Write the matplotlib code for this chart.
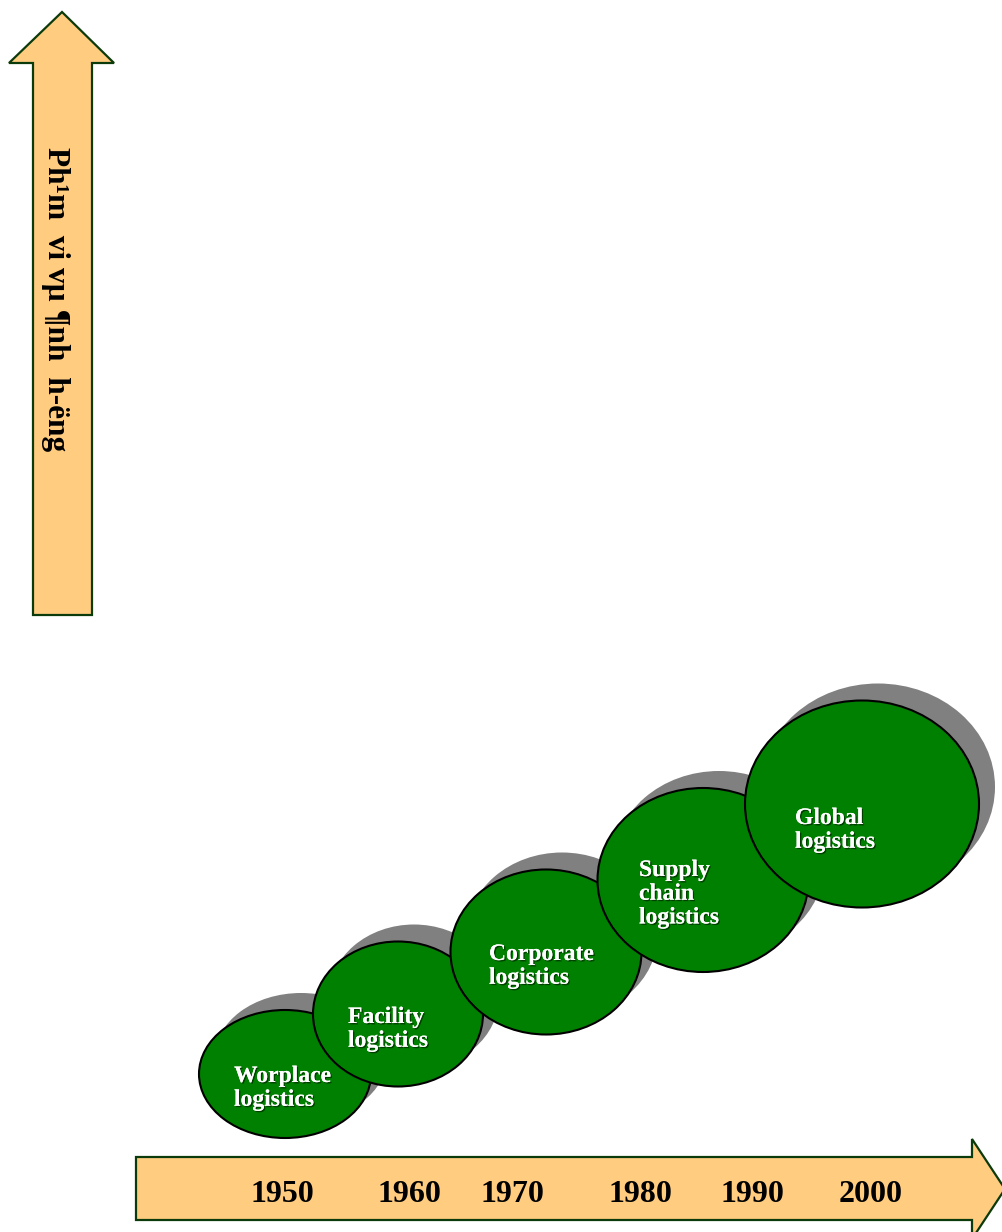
import matplotlib.pyplot as plt
from matplotlib.patches import Polygon, Ellipse
import matplotlib.patheffects as pe

# labels and years
stages = ['Worplace\nlogistics', 'Facility\nlogistics', 'Corporate\nlogistics',
          'Supply\nchain\nlogistics', 'Global\nlogistics']
years = ['1950', '1960', '1970', '1980', '1990', '2000']
axis_title = 'Ph\u00b9m  vi vµ ¶nh  h-ëng'

# layout (pixel coords, y down)
ell_cx = [285, 398, 546, 703, 862]
ell_cy = [1074, 1014, 952, 880, 804]
ell_w = [172, 170, 191, 211, 234]
ell_h = [128, 145, 165, 184, 207]
txt_x = [234, 348, 489, 639, 795]
txt_y = [1076, 1017, 954, 870, 818]
year_x = [282, 409, 512, 640, 752, 871]

W, H = 1003, 1232
fig = plt.figure(figsize=(W / 100, H / 100), dpi=100)
ax = fig.add_axes([0, 0, 1, 1])
ax.set_xlim(0, W)
ax.set_ylim(H, 0)
ax.axis('off')

fill = '#FFCC80'
edge = '#0B3A0B'

# vertical arrow
v_arrow = [(62, 12), (9, 63), (33, 63), (33, 615), (92, 615), (92, 63), (114, 63)]
ax.add_patch(Polygon(v_arrow, closed=True, fc=fill, ec=edge, lw=1.6, zorder=1))
ax.text(55, 299, axis_title, rotation=270, ha='center', va='center',
        fontsize=22.5, fontweight='bold', family='Liberation Serif', zorder=2)

# horizontal arrow
h_arrow = [(136, 1157), (972, 1157), (972, 1139), (1005, 1189), (972, 1239),
           (972, 1220), (136, 1220)]
ax.add_patch(Polygon(h_arrow, closed=True, fc=fill, ec=edge, lw=1.6, zorder=1))
for x, y in zip(year_x, years):
    ax.text(x, 1194, y, ha='center', va='center', fontsize=23,
            fontweight='bold', family='Liberation Serif', zorder=2)

# ellipses with shadows
shadow = [pe.withSimplePatchShadow(offset=(1, -1), shadow_rgbFace='black', alpha=0.5),
          pe.Normal()]
for i in range(len(stages)):
    z = 3 + 2 * i
    ax.add_patch(Ellipse((ell_cx[i] + 16, ell_cy[i] - 17), ell_w[i], ell_h[i],
                         fc='#808080', ec='none', zorder=z))
    ax.add_patch(Ellipse((ell_cx[i], ell_cy[i]), ell_w[i], ell_h[i],
                         fc='#008000', ec='black', lw=1.5, zorder=z + 1))
    ax.text(txt_x[i], txt_y[i] - 10, stages[i], ha='left', va='top',
            fontsize=17, fontweight='bold', family='Liberation Serif',
            color='white', linespacing=1.17, zorder=20, path_effects=shadow)

fig.savefig('out.png', dpi=100)
